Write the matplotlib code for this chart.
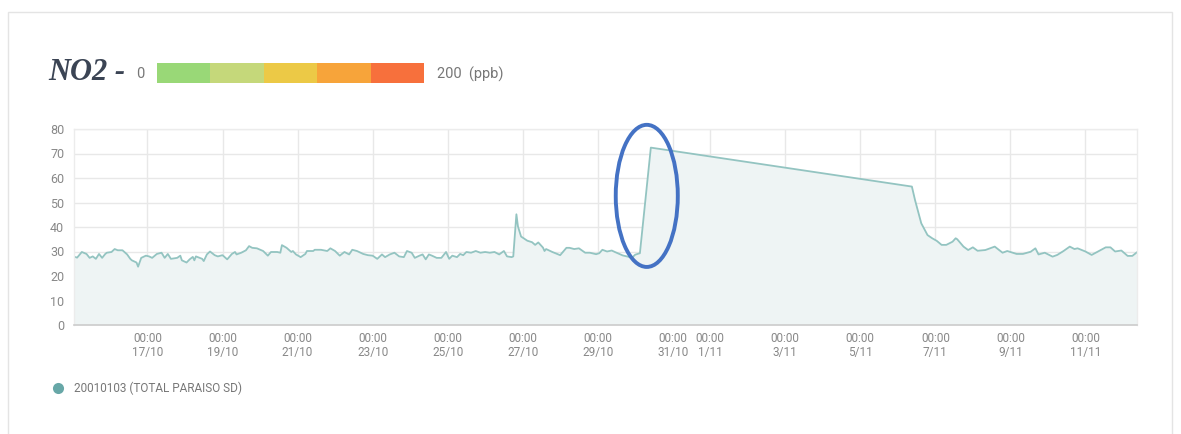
import matplotlib
matplotlib.use("Agg")
import matplotlib.pyplot as plt
import matplotlib.dates as mdates
from matplotlib.patches import Rectangle, Ellipse
from matplotlib.lines import Line2D
import pandas as pd
import numpy as np

# ---------------- data ----------------
start = pd.Timestamp("2019-10-15 00:00")
hours = [1, 3, 6, 9, 11, 13, 15, 17, 19, 21, 22, 25, 27, 29, 32, 35, 37, 38, 41, 42,
         44, 47, 49, 51, 54, 57, 59, 61, 63, 67, 69, 70, 73, 75, 77, 78, 79, 83, 84, 86,
         88, 91, 93, 96, 99, 102, 104, 105, 108, 111, 113, 115, 118, 122, 125, 127, 131, 133, 134, 137,
         140, 141, 143, 146, 149, 150, 154, 155, 159, 163, 165, 168, 171, 174, 177, 179, 182, 186, 189, 192,
         195, 198, 200, 203, 206, 209, 212, 214, 217, 219, 222, 224, 226, 228, 230, 233, 236, 239, 241, 243,
         246, 248, 250, 252, 255, 258, 261, 264, 267, 270, 273, 276, 278, 281, 282, 284, 285, 287, 291, 294,
         296, 298, 301, 302, 303, 307, 310, 312, 316, 318, 321, 324, 328, 331, 335, 337, 339, 342, 345, 347,
         352, 358, 360, 363, 370, 537, 539, 543, 547, 550, 553, 556, 559, 563, 565, 566, 570, 573, 576, 579,
         584, 590, 595, 598, 604, 608, 613, 616, 618, 622, 627, 630, 634, 638, 641, 643, 648, 652, 656, 661,
         664, 667, 671, 675, 678, 681]
values = [27.9, 27.5, 29.8, 29.0, 27.4, 28.0, 27.0, 29.0, 27.4, 29.0, 29.5, 29.8, 31.0, 30.5, 30.5, 28.8, 27.0, 26.4, 25.5, 23.8,
          27.4, 28.3, 28.0, 27.4, 29.0, 29.5, 27.4, 29.0, 27.0, 27.4, 28.3, 26.4, 25.5, 26.8, 27.8, 26.4, 28.0, 27.0, 26.1, 28.8,
          30.0, 28.5, 28.0, 28.5, 26.8, 29.0, 29.8, 28.8, 29.5, 30.5, 32.2, 31.5, 31.3, 30.2, 28.3, 29.8, 29.8, 29.5, 32.6, 31.5,
          29.8, 30.2, 28.8, 27.7, 29.0, 30.2, 30.2, 30.7, 30.7, 30.2, 31.3, 30.2, 28.3, 29.8, 28.8, 30.7, 30.2, 29.0, 28.5, 28.3,
          27.0, 28.8, 27.7, 28.8, 29.5, 28.0, 27.7, 30.2, 29.5, 27.4, 28.3, 28.8, 26.8, 28.8, 28.3, 27.4, 27.4, 29.8, 27.0, 28.3,
          27.7, 29.0, 28.5, 29.8, 29.5, 30.2, 29.5, 29.8, 29.5, 29.8, 28.8, 30.2, 28.0, 27.7, 28.0, 45.2, 40.2, 36.1, 34.4, 33.8,
          32.7, 33.7, 31.6, 30.2, 31.0, 29.8, 29.0, 28.5, 31.5, 31.5, 31.0, 31.3, 29.5, 29.5, 28.9, 29.3, 30.7, 30.0, 30.4, 29.8,
          28.4, 27.5, 28.7, 29.3, 72.4, 56.5, 51.0, 41.5, 36.7, 35.4, 34.3, 32.7, 32.7, 34.0, 35.4, 35.0, 32.0, 30.6, 31.7, 30.3,
          30.6, 32.0, 29.5, 30.2, 29.0, 29.0, 29.9, 31.3, 28.8, 29.5, 27.9, 28.6, 30.2, 32.0, 31.0, 31.3, 30.0, 28.6, 30.0, 31.7,
          31.7, 30.0, 30.4, 28.2, 28.2, 29.7]
tick_dates = ["17/10", "19/10", "21/10", "23/10", "25/10", "27/10", "29/10", "31/10",
              "1/11", "3/11", "5/11", "7/11", "9/11", "11/11"]
yticks = [0, 10, 20, 30, 40, 50, 60, 70, 80]
scale_colors = ["#99d877", "#c5d87a", "#ecc946", "#f7a43a", "#f7703c"]
series_name = "20010103 (TOTAL PARAISO SD)"
pollutant = "NO2 -"

# ---------------- figure ----------------
W, H = 1181, 434
fig = plt.figure(figsize=(W / 100, H / 100), dpi=100)
fig.patch.set_facecolor("white")

def fx(px):
    return px / W

def fy(py):
    return 1 - py / H

# card border
fig.patches.append(Rectangle((fx(8), fy(440)), fx(1172) - fx(8), fy(12) - fy(440),
                             transform=fig.transFigure, fill=False,
                             edgecolor="#e4e4e4", linewidth=1.0))

# title and colour scale
fig.text(fx(48), fy(73), pollutant, fontsize=22, fontweight="bold", fontstyle="italic",
         family="Liberation Serif", color="#3b4454", va="center", ha="left")
fig.text(fx(140), fy(74), "0", fontsize=10.5, family="Roboto", color="#777777",
         va="center", ha="center")
bar_l, bar_r = 157, 424
seg = (bar_r - bar_l) / len(scale_colors)
for i, c in enumerate(scale_colors):
    fig.patches.append(Rectangle((fx(bar_l + i * seg), fy(83)), fx(seg), fy(63) - fy(83),
                                 transform=fig.transFigure, facecolor=c, edgecolor="none"))
fig.text(fx(437), fy(74), "200  (ppb)", fontsize=10.5, family="Roboto", color="#777777",
         va="center", ha="left")

# main axes
ax = fig.add_axes([fx(74), fy(325), fx(1137) - fx(74), fy(129) - fy(325)])
times = [start + pd.Timedelta(hours=h) for h in hours]
line_color = "#93c4c1"
ax.fill_between(times, values, 0, color="#eef4f4", linewidth=0)
ax.plot(times, values, color=line_color, linewidth=1.3)

ax.set_ylim(0, 80)
ax.set_xlim(times[0], times[-1])
ax.set_yticks(yticks)

tick_pos = []
for d in tick_dates:
    dd, mm = d.split("/")
    tick_pos.append(pd.Timestamp(year=2019, month=int(mm), day=int(dd)))
ax.set_xticks(tick_pos)
ax.set_xticklabels(["00:00\n" + d for d in tick_dates])

ax.grid(True, color="#e8e8e8", linewidth=1.0)
ax.set_axisbelow(True)
for s in ["top", "right", "left"]:
    ax.spines[s].set_color("#ececec")
    ax.spines[s].set_linewidth(1.0)
ax.spines["bottom"].set_color("#cccccc")
ax.spines["bottom"].set_linewidth(1.2)
ax.tick_params(axis="both", length=0, labelsize=8.5, labelcolor="#888888")
ax.tick_params(axis="y", labelsize=9)
ax.tick_params(axis="x", pad=5)
ax.tick_params(axis="y", pad=7)
for lab in ax.get_xticklabels() + ax.get_yticklabels():
    lab.set_family("Roboto")
for lab in ax.get_xticklabels():
    lab.set_linespacing(1.15)

# highlight ellipse (annotation)
cx = mdates.date2num(start + pd.Timedelta(hours=367.4))
ax.add_patch(Ellipse((cx, 52.7), 39.7 / 24, 58, fill=False, edgecolor="#4472c4",
                     linewidth=2.8, clip_on=False, zorder=5))

# legend
fig.add_artist(Line2D([fx(58)], [fy(388)], transform=fig.transFigure, marker="o",
                      markersize=8, markerfacecolor="#67a7a7", markeredgecolor="none",
                      linestyle="none"))
fig.text(fx(74), fy(388), series_name, fontsize=8.5, family="Roboto", color="#777777",
         va="center", ha="left")

fig.savefig("out.png", dpi=100)
